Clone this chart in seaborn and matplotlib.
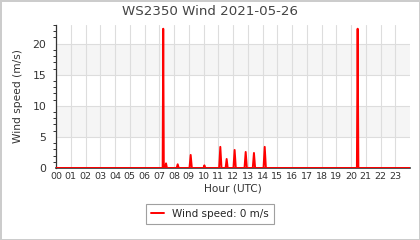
import matplotlib
matplotlib.use("Agg")
import matplotlib.pyplot as plt
import seaborn as sns
import pandas as pd
from matplotlib.ticker import MultipleLocator

# Data: time of day (hours, UTC) and wind speed (m/s)
hours = [0.0, 7.23, 7.27, 7.31, 7.40, 7.46, 7.52, 8.18, 8.25, 8.32,
         9.05, 9.13, 9.21, 10.00, 10.06, 10.12, 11.06, 11.14, 11.22,
         11.50, 11.57, 11.64, 12.03, 12.11, 12.19, 12.78, 12.86, 12.94,
         13.34, 13.42, 13.50, 14.07, 14.15, 14.23, 20.40, 20.45, 20.50, 24.0]
speed = [0.0, 0.0, 22.4, 0.0, 0.0, 0.75, 0.0, 0.0, 0.6, 0.0,
         0.0, 2.1, 0.0, 0.0, 0.43, 0.0, 0.0, 3.4, 0.0,
         0.0, 1.45, 0.0, 0.0, 2.9, 0.0, 0.0, 2.58, 0.0,
         0.0, 2.42, 0.0, 0.0, 3.4, 0.0, 0.0, 22.4, 0.0, 0.0]
hour_labels = [f"{h:02d}" for h in range(24)]
y_ticks = [0, 5, 10, 15, 20]
title = "WS2350 Wind 2021-05-26"
legend_label = "Wind speed: 0 m/s"

df = pd.DataFrame({"hour": hours, "speed": speed})

sns.set_style("white")
plt.rcParams['font.family'] = ['DejaVu Sans']

fig = plt.figure(figsize=(4.2, 2.4), dpi=100)
fig.patch.set_edgecolor("#cccccc")
fig.patch.set_linewidth(1.0)
ax = fig.add_axes([56/420, 1-168/240, (410-56)/420, (168-25)/240])

for lo, hi in [(5, 10), (15, 20)]:
    ax.axhspan(lo, hi, color="#f5f5f5", zorder=0, lw=0)

sns.lineplot(data=df, x="hour", y="speed", ax=ax, color="#ff0000",
             linewidth=1.4, label=legend_label, legend=False, zorder=3)

ax.set_xlim(0, 24)
ax.set_ylim(0, 23)
ax.set_xticks(range(24))
ax.set_xticklabels(hour_labels)
ax.set_yticks(y_ticks)
ax.yaxis.set_minor_locator(MultipleLocator(1))
ax.grid(True, which="major", color="#dddddd", linewidth=0.8, zorder=1)
ax.set_axisbelow(True)

for s in ["top", "right"]:
    ax.spines[s].set_visible(False)
ax.spines["left"].set_color("#333333")
ax.spines["bottom"].set_color("#333333")
ax.spines["left"].set_linewidth(0.9)
ax.spines["bottom"].set_linewidth(1.2)

ax.tick_params(axis="x", which="major", length=0, labelsize=6.8, colors="#333333", pad=3)
ax.tick_params(axis="y", which="major", length=5, width=0.8, labelsize=7.8, colors="#333333", pad=2)
ax.tick_params(axis="y", which="minor", length=2.5, width=0.7, colors="#333333", left=True)

ax.set_xlabel("Hour (UTC)", fontsize=7.6, color="#333333", labelpad=2)
ax.set_ylabel("Wind speed (m/s)", fontsize=7.7, color="#333333", labelpad=7)
fig.suptitle(title, fontsize=9.6, color="#444444", y=0.978)

leg = fig.legend(loc="center", bbox_to_anchor=(0.5, 1-214/240), fontsize=7.5,
                 frameon=True, fancybox=False, edgecolor="#888888",
                 handlelength=1.2, borderpad=0.5)
leg.get_frame().set_linewidth(0.8)

fig.savefig("out.png", dpi=100)
